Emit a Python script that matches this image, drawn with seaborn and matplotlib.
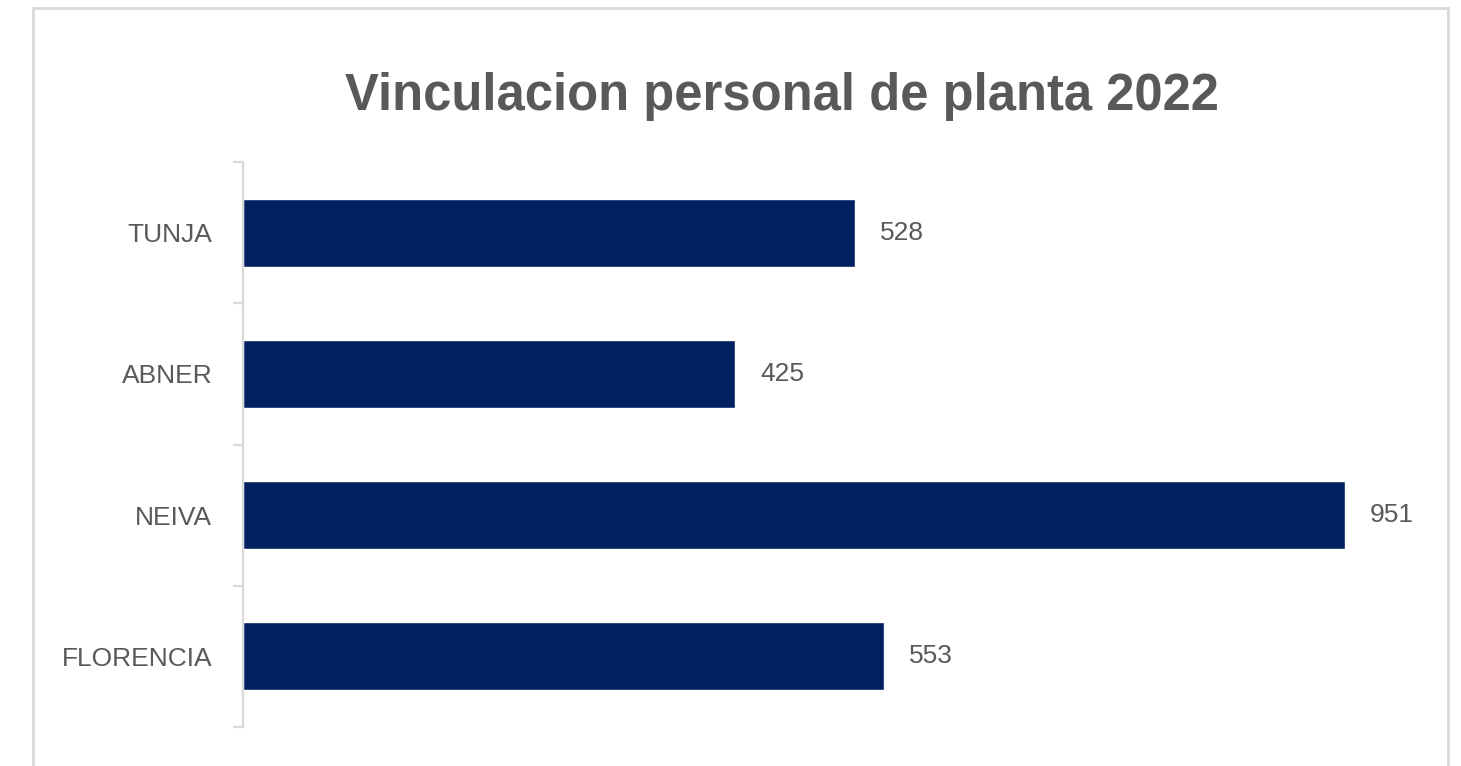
import matplotlib.pyplot as plt
import seaborn as sns
from matplotlib.patches import Rectangle

# datos
sedes = ['TUNJA', 'ABNER', 'NEIVA', 'FLORENCIA']
vinculados = [528, 425, 951, 553]
titulo = 'Vinculacion personal de planta 2022'

sns.set_theme(style='white')
plt.rcParams['font.family'] = ['Liberation Sans', 'DejaVu Sans']

gris = '#595959'
azul = '#002060'

fig = plt.figure(figsize=(14.61, 7.66), dpi=100)
ax = fig.add_axes([0.1663, 0.0509, 0.7932, 0.7376])

sns.barplot(x=vinculados, y=sedes, color=azul, width=0.48, ax=ax,
            saturation=1, orient='h')

ax.bar_label(ax.containers[0], padding=18, fontsize=19, color=gris)

ax.set_xlim(0, 1000)
ax.set_ylim(len(sedes) - 0.5, -0.5)
ax.set_xlabel('')
ax.set_ylabel('')
ax.set_xticks([])

# ejes estilo Excel: solo linea vertical con marcas entre categorias
for s in ['top', 'right', 'bottom']:
    ax.spines[s].set_visible(False)
ax.spines['left'].set_color('#d9d9d9')
ax.spines['left'].set_linewidth(1.6)
ax.set_yticks([i - 0.5 for i in range(len(sedes) + 1)], minor=True)
ax.tick_params(axis='y', which='minor', length=7, width=1.6, color='#d9d9d9', left=True)
ax.tick_params(axis='y', which='major', length=0, pad=22, labelsize=19, labelcolor=gris)

fig.text(0.535, 0.874, titulo, ha='center', va='center', fontsize=36.5,
         fontweight='bold', color=gris)

# borde del area del grafico
fig.patches.append(Rectangle((33 / 1461, -0.02), (1448 - 33) / 1461, 1.02 - 8 / 766,
                             transform=fig.transFigure, fill=False,
                             edgecolor='#d9d9d9', linewidth=2))

fig.savefig('out.png', dpi=100)
